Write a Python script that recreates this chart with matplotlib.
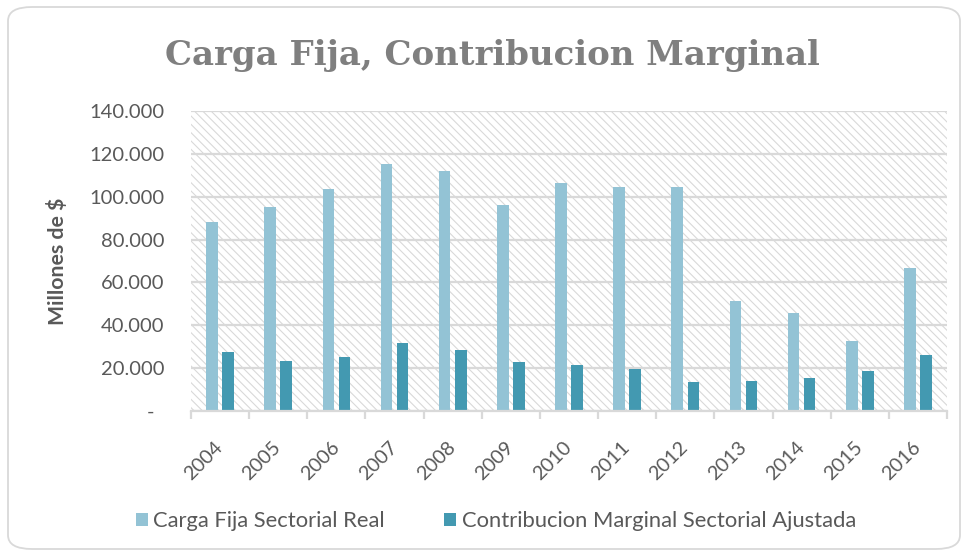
import matplotlib
matplotlib.use("Agg")
import matplotlib.pyplot as plt
from matplotlib.patches import FancyBboxPatch, Rectangle
import numpy as np

# datos
years = ["2004", "2005", "2006", "2007", "2008", "2009", "2010",
         "2011", "2012", "2013", "2014", "2015", "2016"]
carga_fija = [88300, 95000, 103700, 115100, 112100, 96000, 106500,
              104500, 104500, 51300, 45600, 32700, 66600]
contribucion = [27400, 23500, 25300, 31600, 28600, 22900, 21300,
                19600, 13500, 14000, 15400, 18700, 26100]
yticks = [0, 20000, 40000, 60000, 80000, 100000, 120000, 140000]
ytick_labels = ["-  ", "20.000", "40.000", "60.000", "80.000",
                "100.000", "120.000", "140.000"]

light = "#93c3d5"
dark = "#4399b1"
txt = "#595959"
grid = "#d9d9d9"

plt.rcParams['font.family'] = ['Lato', 'DejaVu Sans']
plt.rcParams['hatch.linewidth'] = 0.8

fig = plt.figure(figsize=(9.63, 5.53), dpi=100)

# marco redondeado del grafico
frame = FancyBboxPatch((8 / 963, 4 / 553), 952 / 963, 542 / 553,
                       boxstyle="round,pad=0,rounding_size=0.025",
                       transform=fig.transFigure, facecolor="white",
                       edgecolor=grid, linewidth=1.3, zorder=-5)
fig.patches.append(frame)

ax = fig.add_axes([191 / 963, 1 - 411 / 553, 756 / 963, 300 / 553])
ax.set_facecolor("white")

# fondo rayado
bg = Rectangle((0, 0), 1, 1, transform=ax.transAxes, facecolor="white",
               edgecolor="#d9d9d9", linewidth=0, hatch="\\\\\\\\", zorder=0)
ax.add_patch(bg)

x = np.arange(len(years))
w = 0.2
off = 0.138
ax.bar(x - off, carga_fija, w, color=light, zorder=3, label="Carga Fija Sectorial Real")
ax.bar(x + off, contribucion, w, color=dark, zorder=3,
       label="Contribucion Marginal Sectorial Ajustada")

ax.set_xlim(-0.5, len(years) - 0.5)
ax.set_ylim(0, 140000)

ax.set_yticks(yticks)
ax.set_yticklabels(ytick_labels)
ax.yaxis.grid(True, color=grid, linewidth=1.6, zorder=1)
ax.set_axisbelow(True)
ax.tick_params(axis="y", length=0, pad=19, labelsize=14.5, labelcolor=txt)

ax.set_xticks(x)
ax.set_xticklabels(years, rotation=45, ha="right", va="center",
                   rotation_mode="anchor")
ax.set_xticks(np.arange(-0.5, len(years)), minor=True)
ax.tick_params(axis="x", which="major", length=0, pad=24, labelsize=14.3,
               labelcolor=txt)
ax.tick_params(axis="x", which="minor", length=6, width=1.6, color=grid)

for s in ["top", "right", "left"]:
    ax.spines[s].set_visible(False)
ax.spines["bottom"].set_color(grid)
ax.spines["bottom"].set_linewidth(1.6)
ax.spines["bottom"].set_zorder(4)

ax.set_ylabel("Millones de $", fontsize=15.3, fontweight="bold", color=txt)
ax.yaxis.set_label_coords((68 - 191) / 756, 0.5)

fig.text(492 / 963, 1 - 55 / 553, "Carga Fija, Contribucion Marginal",
         family="DejaVu Serif", fontweight="bold", fontsize=24.5, color="#7f7f7f",
         ha="center", va="center")

fig.legend(loc="center", bbox_to_anchor=(496 / 963, 1 - 521 / 553), ncol=2,
           frameon=False, fontsize=15.8, labelcolor=txt, handlelength=0.55,
           handleheight=0.55, handletextpad=0.25, columnspacing=2.7)

fig.savefig("out.png", dpi=100)
